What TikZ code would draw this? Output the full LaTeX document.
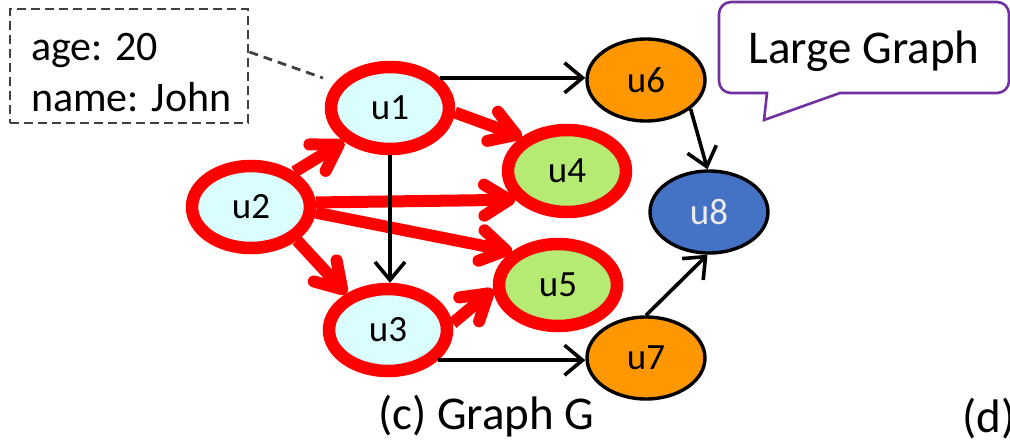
\documentclass[tikz,border=0pt]{standalone}
\usepackage{fontspec}
\setmainfont{Carlito}
\usetikzlibrary{shapes.geometric,arrows.meta}
\definecolor{vcyan}{RGB}{218,253,253}
\definecolor{vgreen}{RGB}{181,234,115}
\definecolor{vorange}{RGB}{255,152,0}
\definecolor{vblue}{RGB}{68,114,196}
\definecolor{vpurple}{RGB}{112,48,160}
\definecolor{vgray}{RGB}{64,64,64}
\begin{document}
\begin{tikzpicture}[x=1pt,y=-1pt,
  vertex/.style={ellipse, inner sep=0pt, font=\fontsize{37pt}{44pt}\selectfont},
  hit/.style={vertex, draw=red, line width=12.5pt, minimum width=118pt, minimum height=82pt},
  plain/.style={vertex, draw=black, line width=3.4pt, minimum width=118pt, minimum height=82pt},
  redarrow/.style={draw=red, line width=12pt, -{Straight Barb[round, length=25pt, width=31pt]}},
  blackarrow/.style={draw=black, line width=3.6pt, -{Straight Barb[length=18pt, width=30pt]}},
  attrtext/.style={inner sep=0pt, anchor=base west, font=\fontsize{42pt}{50pt}\selectfont},
  tagline/.style={draw=vgray, line width=2.8pt, dash pattern=on 9pt off 6pt},
  caption/.style={inner sep=0pt, anchor=base west, font=\fontsize{47pt}{56pt}\selectfont}]
\useasboundingbox (0,0) rectangle (1010,440);
\clip (0,0) rectangle (1010,440);

% attribute box of u1
\node[draw=vgray, line width=2.9pt, dash pattern=on 9pt off 5pt,
      minimum width=238pt, minimum height=114pt, inner sep=0pt] (attr) at (129,66) {};
\node[attrtext] (age) at (31,60) {age: 20};
\node[attrtext] (name) at (31,111) {name: John};

% vertices
\node[hit, fill=vcyan] (u1) at (390,108) {u1};
\node[hit, fill=vcyan] (u2) at (251,207) {u2};
\node[hit, fill=vcyan] (u3) at (388,330) {u3};
\node[hit, fill=vgreen] (u4) at (567,171) {u4};
\node[hit, fill=vgreen] (u5) at (558,285) {u5};
\node[plain, fill=vorange] (u6) at (646,80) {u6};
\node[plain, fill=vblue, text=white!92!black] (u8) at (709,212) {u8};
\node[plain, fill=vorange] (u7) at (646,358) {u7};

% link from the attribute box
\coordinate (tagend) at (323,78);
\draw[tagline] (attr.east |- 0,52) -- (tagend);

% highlighted edges
\draw[redarrow] (u2.39) -- (u1.216);
\draw[redarrow] (u2.4) -- (u4.209);
\draw[redarrow] (u2.-5) -- (u5.144);
\draw[redarrow] (u2.-36) -- (u3.139);
\draw[redarrow] (u1.-4) -- (u4.143);
\draw[redarrow] (u3.6) -- (u5.184);

% plain edges
\draw[blackarrow] (u1.31) -- (u1.31 -| u6.west);
\draw[blackarrow] (u3.-31) -- (u3.-31 -| u7.west);
\draw[blackarrow] (u1.south) -- (u1.south |- u3.north);
\draw[blackarrow] (u6.-33) -- (u8.92);
\draw[blackarrow] (u7.north) -- (u8.268);

% speech bubble
\draw[draw=vpurple, line width=2.6pt] (767,93) [rounded corners=12pt] -- (719,93) -- (719,2)
  -- (1009,2) -- (1009,93) [sharp corners] -- (840,93) -- (764,120) -- cycle;
\node[caption, anchor=base] (bubble) at (864,63) {Large Graph};

% captions
\node[caption] (capc) at (378,429) {(c) Graph G};
\node[caption] (capd) at (962,432) {(d)};
\end{tikzpicture}
\end{document}
